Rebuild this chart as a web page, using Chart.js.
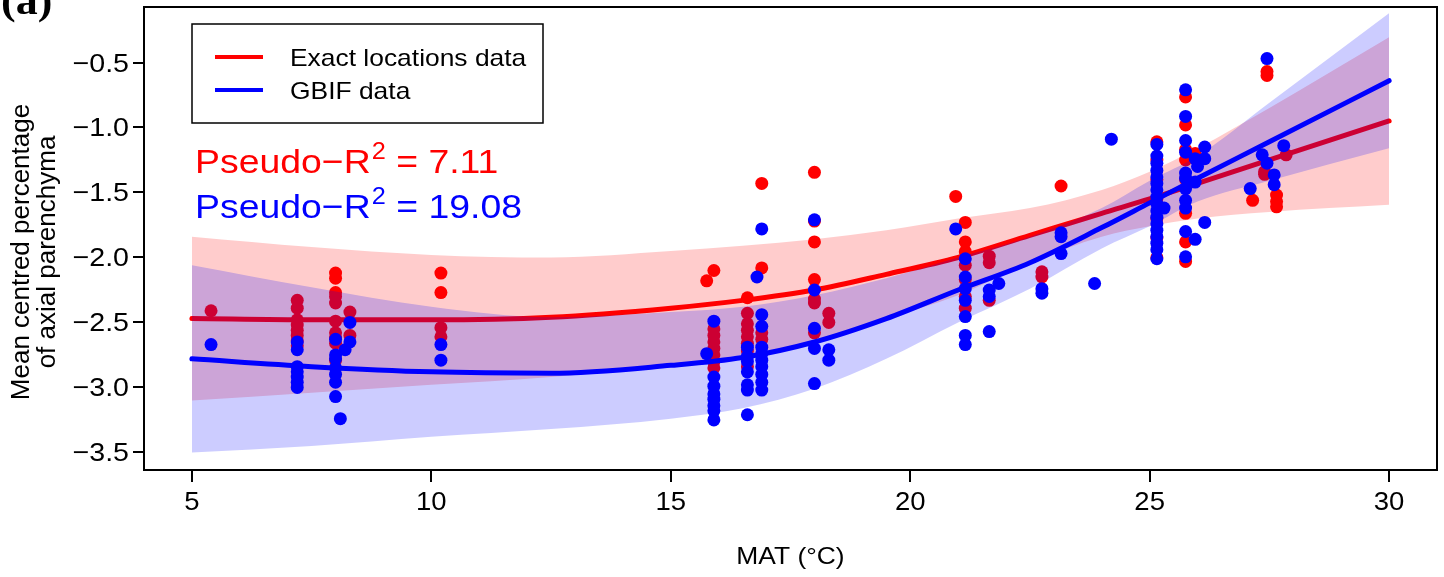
<!DOCTYPE html>
<html lang="en">
<head>
<meta charset="UTF-8">
<title>Axial parenchyma vs MAT</title>
<script src="https://cdn.jsdelivr.net/npm/chart.js"></script>
<style>
  html, body { margin: 0; padding: 0; background: #fff; }
  canvas { display: block; }
</style>
</head>
<body>
<canvas id="chart" width="1444" height="577"></canvas>
<script>
// axis ticks
const xTicks = [5, 10, 15, 20, 25, 30];
const yTicks = [-3.5, -3, -2.5, -2, -1.5, -1, -0.5];

// fitted curves and their confidence ribbons
const fitX     = [5, 7.5, 10, 12.5, 15, 16.5, 18, 19.5, 21, 22.5, 24, 25, 26, 27.5, 30];
const exactFit = [-2.47, -2.48, -2.48, -2.46, -2.39, -2.33, -2.25, -2.13, -2.00, -1.83, -1.66, -1.55, -1.43, -1.25, -0.95];
const exactHi  = [-1.84, -1.92, -1.98, -2.00, -1.95, -1.91, -1.86, -1.79, -1.70, -1.62, -1.48, -1.34, -1.16, -0.85, -0.305];
const exactLo  = [-3.10, -3.04, -2.98, -2.92, -2.83, -2.75, -2.64, -2.47, -2.29, -2.04, -1.84, -1.76, -1.70, -1.65, -1.595];
const gbifFit  = [-2.78, -2.84, -2.88, -2.89, -2.83, -2.77, -2.65, -2.47, -2.25, -2.04, -1.77, -1.58, -1.39, -1.11, -0.64];
const gbifHi   = [-2.06, -2.23, -2.38, -2.46, -2.42, -2.38, -2.29, -2.16, -2.00, -1.84, -1.62, -1.41, -1.22, -0.81, -0.12];
const gbifLo   = [-3.50, -3.45, -3.38, -3.32, -3.24, -3.16, -3.01, -2.78, -2.50, -2.24, -1.93, -1.76, -1.57, -1.41, -1.16];

// observations: [MAT, value]
const exactPoints = [
  [5.4, -2.41],
  [7.2, -2.33], [7.2, -2.39], [7.2, -2.48], [7.2, -2.52], [7.2, -2.56], [7.2, -2.60], [7.2, -2.64], [7.2, -2.68],
  [8.0, -2.12], [8.0, -2.16], [8.0, -2.27], [8.0, -2.30], [8.0, -2.35], [8.0, -2.49], [8.0, -2.58], [8.0, -2.62], [8.0, -2.66], [8.0, -2.79],
  [8.3, -2.42], [8.3, -2.60],
  [10.2, -2.12], [10.2, -2.27], [10.2, -2.54], [10.2, -2.61],
  [15.9, -2.10], [15.75, -2.18], [15.9, -2.55], [15.9, -2.60], [15.9, -2.65], [15.9, -2.70], [15.9, -2.75], [15.9, -2.80], [15.9, -2.85],
  [16.6, -2.31], [16.6, -2.43], [16.6, -2.51], [16.6, -2.56], [16.6, -2.61], [16.6, -2.66], [16.6, -2.72], [16.6, -2.84],
  [16.9, -1.43], [16.9, -2.08], [16.9, -2.58], [16.9, -2.63],
  [18.0, -1.345], [18.0, -1.72], [18.0, -1.88], [18.0, -2.17], [18.0, -2.32], [18.0, -2.35], [18.0, -2.58],
  [18.3, -2.43], [18.3, -2.50],
  [20.95, -1.53],
  [21.15, -1.73], [21.15, -1.88], [21.15, -1.955], [21.15, -2.06], [21.15, -2.17], [21.15, -2.30], [21.15, -2.39],
  [21.65, -1.99], [21.65, -2.04], [21.65, -2.33],
  [22.75, -2.11], [22.75, -2.15],
  [23.15, -1.45],
  [25.15, -1.11], [25.15, -1.25], [25.15, -1.40], [25.15, -1.55], [25.15, -1.70], [25.15, -1.85], [25.15, -2.00],
  [25.75, -0.765], [25.75, -0.98], [25.75, -1.17], [25.75, -1.25], [25.75, -1.40], [25.75, -1.66], [25.75, -1.88], [25.75, -2.03],
  [25.95, -1.20],
  [27.15, -1.56],
  [27.4, -1.34], [27.4, -1.36], [27.45, -0.57], [27.45, -0.60],
  [27.65, -1.52], [27.65, -1.57], [27.65, -1.61],
  [27.85, -1.21]
];
const gbifPoints = [
  [5.4, -2.67],
  [7.2, -2.65], [7.2, -2.71], [7.2, -2.84], [7.2, -2.88], [7.2, -2.92], [7.2, -2.96], [7.2, -3.00],
  [8.0, -2.63], [8.0, -2.75], [8.0, -2.78], [8.0, -2.85], [8.0, -2.90], [8.0, -2.96], [8.0, -3.07],
  [8.1, -3.24], [8.2, -2.71], [8.3, -2.50], [8.3, -2.65],
  [10.2, -2.67], [10.2, -2.79],
  [15.9, -2.49], [15.75, -2.74], [15.9, -2.92], [15.9, -2.99], [15.9, -3.05], [15.9, -3.09], [15.9, -3.14], [15.9, -3.18], [15.9, -3.25],
  [16.6, -2.69], [16.6, -2.76], [16.6, -2.80], [16.6, -2.88], [16.6, -2.98], [16.6, -3.02], [16.6, -3.21],
  [16.9, -1.78], [16.8, -2.15], [16.9, -2.44], [16.9, -2.53], [16.9, -2.69], [16.9, -2.74], [16.9, -2.79], [16.9, -2.84], [16.9, -2.90], [16.9, -2.96], [16.9, -3.02],
  [18.0, -1.71], [18.0, -2.25], [18.0, -2.545], [18.0, -2.70], [18.0, -2.97],
  [18.3, -2.71], [18.3, -2.79],
  [20.95, -1.78],
  [21.15, -2.01], [21.15, -2.15], [21.15, -2.24], [21.15, -2.33], [21.15, -2.455], [21.15, -2.60], [21.15, -2.67],
  [21.65, -2.25], [21.65, -2.30], [21.65, -2.57], [21.85, -2.20],
  [22.75, -2.24], [22.75, -2.275],
  [23.15, -1.81], [23.15, -1.84], [23.15, -1.97],
  [23.85, -2.20], [24.2, -1.09],
  [25.15, -1.13], [25.15, -1.22], [25.15, -1.275], [25.15, -1.33], [25.15, -1.38], [25.15, -1.43], [25.15, -1.48], [25.15, -1.535],
  [25.15, -1.585], [25.15, -1.64], [25.15, -1.69], [25.15, -1.74], [25.15, -1.79], [25.15, -1.84], [25.15, -1.89], [25.15, -1.94], [25.15, -2.01],
  [25.3, -1.62],
  [25.75, -0.71], [25.75, -0.915], [25.75, -1.10], [25.75, -1.19], [25.75, -1.35], [25.75, -1.39], [25.75, -1.47], [25.75, -1.56], [25.75, -1.62], [25.75, -1.80], [25.75, -1.995],
  [25.95, -1.24], [25.95, -1.42], [25.95, -1.86], [26.0, -1.30],
  [26.15, -1.15], [26.15, -1.24], [26.15, -1.73],
  [27.1, -1.47], [27.35, -1.21], [27.45, -1.275], [27.45, -0.47],
  [27.6, -1.365], [27.6, -1.44], [27.8, -1.14]
];

const RED = '#ff0000';
const BLUE = '#0000ff';
const FONT = 'Liberation Sans, Arial, Helvetica, sans-serif';
const STRETCH = 1.1; // the original figure is a bit wider than tall

const xy = (xs, ys) => xs.map((x, i) => ({ x: x, y: ys[i] }));
const pts = arr => arr.map(p => ({ x: p[0], y: p[1] }));

function curve(data, color, order, extra) {
  return Object.assign({
    type: 'line', data: data, borderColor: color, borderWidth: 5,
    pointRadius: 0, fill: false, tension: 0.4, cubicInterpolationMode: 'monotone',
    borderCapStyle: 'round', order: order
  }, extra || {});
}

function stretchedText(c, txt, x, y, font, color, align) {
  c.save();
  c.font = font;
  c.fillStyle = color;
  c.textAlign = 'left';
  c.textBaseline = 'alphabetic';
  const w = c.measureText(txt).width * STRETCH;
  let x0 = x;
  if (align === 'center') x0 = x - w / 2;
  if (align === 'right') x0 = x - w;
  c.translate(x0, y);
  c.scale(STRETCH, 1);
  c.fillText(txt, 0, 0);
  c.restore();
  return w;
}

function pseudoR2(c, value, x, y, color) {
  let w = stretchedText(c, 'Pseudo\u2212R', x, y, '34px ' + FONT, color);
  w += stretchedText(c, '2', x + w + 1, y - 14, '23px ' + FONT, color) + 1;
  stretchedText(c, ' = ' + value, x + w, y, '34px ' + FONT, color);
}

const decorations = {
  id: 'decorations',
  afterDraw(chart) {
    const c = chart.ctx;
    const a = chart.chartArea;
    const sx = chart.scales.x;
    const sy = chart.scales.y;
    const tickFont = '26px ' + FONT;
    c.save();
    // plot frame
    c.strokeStyle = '#000';
    c.lineWidth = 2;
    c.strokeRect(a.left, a.top, a.right - a.left, a.bottom - a.top);

    // tick labels, placed by the chart's own scales
    sx.ticks.forEach(t => {
      stretchedText(c, String(t.value), sx.getPixelForValue(t.value), 510, '25px ' + FONT, '#000', 'center');
    });
    sy.ticks.forEach(t => {
      const label = t.value.toFixed(1).replace('-', '\u2212');
      stretchedText(c, label, 129, sy.getPixelForValue(t.value) + 9, tickFont, '#000', 'right');
    });

    // panel tag
    stretchedText(c, '(a)', 1, 14, 'bold 40px Liberation Serif, serif', '#000');

    // legend box
    c.lineWidth = 1.5;
    c.strokeRect(192, 24, 351, 99);
    c.lineWidth = 4;
    c.strokeStyle = RED;
    c.beginPath(); c.moveTo(215, 57); c.lineTo(263, 57); c.stroke();
    c.strokeStyle = BLUE;
    c.beginPath(); c.moveTo(215, 90); c.lineTo(263, 90); c.stroke();
    stretchedText(c, 'Exact locations data', 290, 66, '24px ' + FONT, '#000');
    stretchedText(c, 'GBIF data', 290, 99, '24px ' + FONT, '#000');

    // fit statistics
    pseudoR2(c, '7.11', 195, 173, RED);
    pseudoR2(c, '19.08', 195, 218, BLUE);

    // axis titles
    stretchedText(c, 'MAT (\u00b0C)', (a.left + a.right) / 2, 564, '24px ' + FONT, '#000', 'center');
    c.fillStyle = '#000';
    c.font = '26px ' + FONT;
    c.textAlign = 'center';
    c.textBaseline = 'middle';
    c.translate(22, 252);
    c.rotate(-Math.PI / 2);
    c.fillText('Mean centred percentage', 0, 0);
    c.fillText('of axial parenchyma', 0, 26);
    c.restore();
  }
};

new Chart(document.getElementById('chart'), {
  type: 'scatter',
  data: {
    datasets: [
      curve(xy(fitX, exactHi), 'rgba(0,0,0,0)', 7, { borderWidth: 0, fill: '+1', backgroundColor: 'rgba(255,0,0,0.2)' }),
      curve(xy(fitX, exactLo), 'rgba(0,0,0,0)', 7, { borderWidth: 0 }),
      { type: 'scatter', data: pts(exactPoints), backgroundColor: RED, borderWidth: 0, pointRadius: 6.5, order: 6 },
      curve(xy(fitX, exactFit), RED, 5),
      curve(xy(fitX, gbifHi), 'rgba(0,0,0,0)', 4, { borderWidth: 0, fill: '+1', backgroundColor: 'rgba(0,0,255,0.2)' }),
      curve(xy(fitX, gbifLo), 'rgba(0,0,0,0)', 4, { borderWidth: 0 }),
      { type: 'scatter', data: pts(gbifPoints), backgroundColor: BLUE, borderWidth: 0, pointRadius: 6.5, order: 3 },
      curve(xy(fitX, gbifFit), BLUE, 2)
    ]
  },
  options: {
    responsive: false,
    animation: false,
    events: [],
    layout: { padding: { top: 7, right: 7, left: 0, bottom: 0 } },
    plugins: { legend: { display: false }, tooltip: { enabled: false } },
    scales: {
      x: {
        type: 'linear', min: 4, max: 31,
        afterFit: s => { s.height = 107; },
        afterBuildTicks: s => { s.ticks = xTicks.map(v => ({ value: v })); },
        grid: { drawOnChartArea: false, color: '#000', lineWidth: 2, tickLength: 12 },
        border: { color: '#000', width: 2 },
        ticks: { display: false }
      },
      y: {
        type: 'linear', min: -3.635, max: -0.073,
        afterFit: s => { s.width = 144; },
        afterBuildTicks: s => { s.ticks = yTicks.map(v => ({ value: v })); },
        grid: { drawOnChartArea: false, color: '#000', lineWidth: 2, tickLength: 11 },
        border: { color: '#000', width: 2 },
        ticks: { display: false }
      }
    }
  },
  plugins: [decorations]
});
</script>
</body>
</html>
